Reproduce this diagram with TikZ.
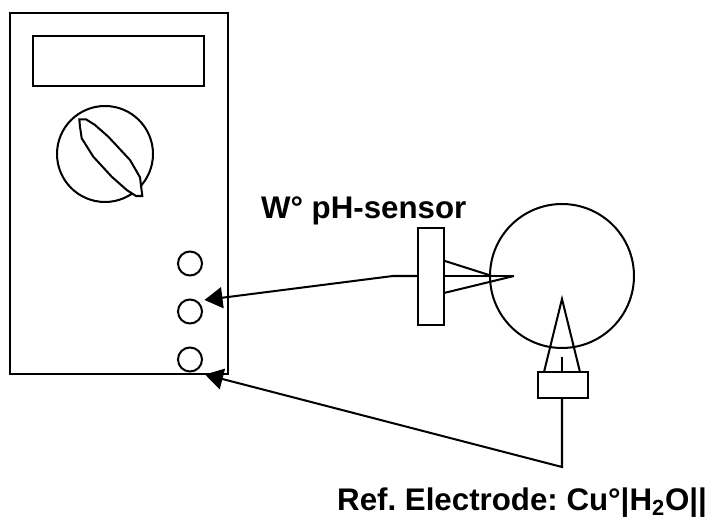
\documentclass[tikz,border=0pt]{standalone}
\usepackage{fontspec}
\setmainfont{Liberation Sans}
\usetikzlibrary{arrows.meta}
\tikzset{
	part/.style={draw, rectangle, inner sep=0pt, outer sep=0pt},
	port/.style={draw, circle, inner sep=0pt, outer sep=0pt, minimum size=0.48cm},
	lead/.style={-{Triangle[length=0.36cm,width=0.42cm]}},
	label/.style={inner sep=0pt, font=\bfseries\fontsize{17.8}{20}\selectfont\frenchspacing}
}

\begin{document}
\begin{tikzpicture}[x=0.02cm, y=-0.02cm, line width=1.15pt]
		\useasboundingbox (0,0) rectangle (711,519);
		% meter
		\node[part, minimum width=4.36cm, minimum height=7.22cm] (meter) at (119,193.5) {};
		\node[part, minimum width=3.42cm, minimum height=1cm] (display) at (118.5,61) {};
		% dial
		\node[port, minimum size=1.92cm] (dial) at (105,154) {};
		\draw[fill=white] (79.3,119.3) -- (86,119.3) -- (95,125) -- (108.3,136.7) -- (130,160) -- (140,177.3) -- (142.3,196) -- (136,196) -- (126.7,190) -- (111.7,176.7) -- (93.3,156.7) -- (81.7,138.3) -- (80,126.7) -- cycle;
		% ports
		\node[port] (porta) at (190,263.5) {};
		\node[port] (portb) at (190,311.5) {};
		\node[port] (portc) at (190,359.5) {};
		% cell
		\node[port, minimum size=2.88cm] (cell) at (562,276) {};
		% pH sensor
		\node[part, minimum width=0.52cm, minimum height=1.94cm] (sensor) at (431,276.5) {};
		\coordinate (sensortip) at (514,276);
		\coordinate (sensorup) at (444,260.7);
		\coordinate (sensordown) at (444,293);
		\coordinate (sensorcone) at (489,275);
		\coordinate (sensorbend) at (393,276);
		\coordinate (sensorend) at (204.5,300);
		\draw (sensor.east |- sensortip) -- (sensortip);
		\draw (sensordown) -- (sensortip);
		\draw (sensorup) -- (sensorcone);
		\draw[lead] (sensor.west |- sensorbend) -- (sensorbend) -- (sensorend);
		% reference electrode
		\node[part, minimum width=1cm, minimum height=0.52cm] (refcap) at (563,385) {};
		\coordinate (reftip) at (562,299);
		\coordinate (refleft) at (544,372);
		\coordinate (refright) at (580,372);
		\coordinate (refwire) at (562,357);
		\coordinate (refbend) at (562,467);
		\coordinate (refend) at (205,374.5);
		\draw (refleft) -- (reftip) -- (refright);
		\draw (refwire) -- (refwire |- refcap.north);
		\draw[lead] (refbend |- refcap.south) -- (refbend) -- (refend);
		% labels
		\node[label, anchor=base west] (sensorname) at (260,219) {W° pH-sensor};
		\node[label, anchor=base east] (refname) at (708,511) {Ref. Electrode: Cu°|H\textsubscript{2}O||};
	\end{tikzpicture}
\end{document}
